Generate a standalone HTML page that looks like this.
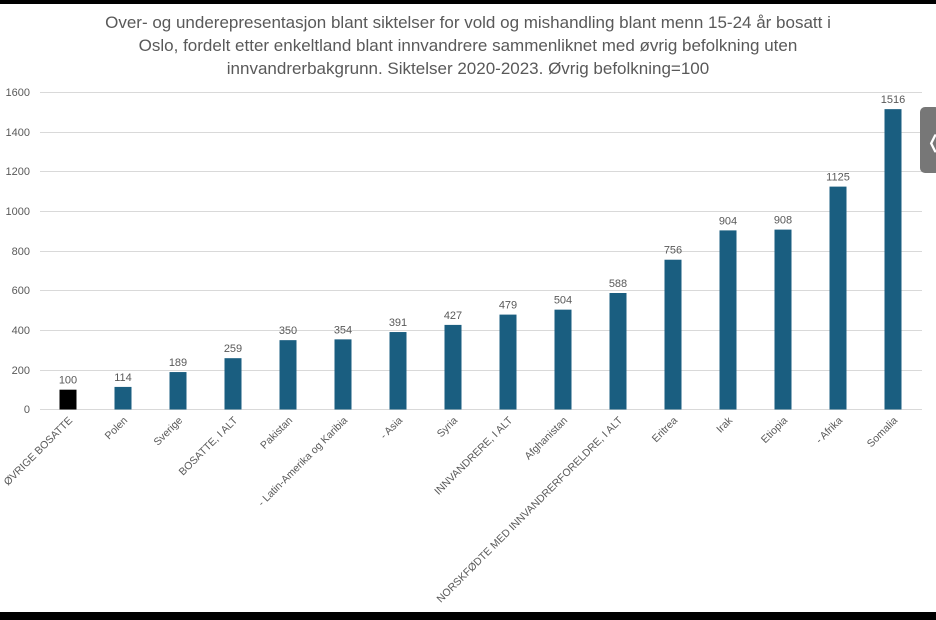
<!DOCTYPE html>
<html><head><meta charset="utf-8"><style>
html,body{margin:0;padding:0;background:#000;}
body{width:936px;height:620px;overflow:hidden;position:relative;}
svg{position:absolute;left:0;top:0;}
</style></head><body>
<svg width="936" height="620" xmlns="http://www.w3.org/2000/svg" font-family="Liberation Sans, sans-serif">
<rect x="0" y="4" width="936" height="608" fill="#fff"/>
<g fill="#595959" font-size="17" text-anchor="middle">
<text x="468" y="28">Over- og underepresentasjon blant siktelser for vold og mishandling blant menn 15-24 år bosatt i</text>
<text x="468" y="51">Oslo, fordelt etter enkeltland blant innvandrere sammenliknet med øvrig befolkning uten</text>
<text x="468" y="74">innvandrerbakgrunn. Siktelser 2020-2023. Øvrig befolkning=100</text>
</g>
<g stroke="#d9d9d9" stroke-width="1">
<line x1="40" x2="922" y1="92.5" y2="92.5"/><line x1="40" x2="922" y1="132.5" y2="132.5"/>
<line x1="40" x2="922" y1="171.5" y2="171.5"/><line x1="40" x2="922" y1="211.5" y2="211.5"/>
<line x1="40" x2="922" y1="251.5" y2="251.5"/><line x1="40" x2="922" y1="290.5" y2="290.5"/>
<line x1="40" x2="922" y1="330.5" y2="330.5"/><line x1="40" x2="922" y1="370.5" y2="370.5"/>
<line x1="40" x2="922" y1="409.5" y2="409.5"/>
</g>
<g fill="#595959" font-size="11" text-anchor="end">
<text x="30" y="96">1600</text><text x="30" y="136">1400</text><text x="30" y="175">1200</text>
<text x="30" y="215">1000</text><text x="30" y="255">800</text><text x="30" y="294">600</text>
<text x="30" y="334">400</text><text x="30" y="374">200</text><text x="30" y="413">0</text>
</g>
<g id="bars"></g>
<rect x="920" y="107" width="20" height="66" rx="5" fill="#777"/>
<text x="926" y="148" fill="#fff" font-size="18">❬</text>
<rect x="0" y="612" width="936" height="8" fill="#000"/>
<rect x="0" y="0" width="936" height="4" fill="#000"/>
</svg>
<script>
var d=[["ØVRIGE BOSATTE",100],["Polen",114],["Sverige",189],["BOSATTE, I ALT",259],["Pakistan",350],["‑ Latin-Amerika og Karibia",354],["‑ Asia",391],["Syria",427],["INNVANDRERE, I ALT",479],["Afghanistan",504],["NORSKFØDTE MED INNVANDRERFORELDRE, I ALT",588],["Eritrea",756],["Irak",904],["Etiopia",908],["‑ Afrika",1125],["Somalia",1516]];
var s='';
d.forEach(function(e,i){
var cx=68+i*55.0,h=e[1]*317/1600,y=409.5-h;
s+='<rect x="'+(cx-8.5)+'" y="'+y+'" width="17" height="'+h+'" fill="'+(i==0?'#000':'#1a5e80')+'"/>';
s+='<text x="'+cx+'" y="'+(y-6)+'" font-size="11" fill="#595959" text-anchor="middle">'+e[1]+'</text>';
s+='<text transform="translate('+(cx+5)+',421) rotate(-45)" font-size="10.5" fill="#595959" text-anchor="end">'+e[0]+'</text>';
});
document.getElementById('bars').innerHTML=s;
</script>
</body></html>
